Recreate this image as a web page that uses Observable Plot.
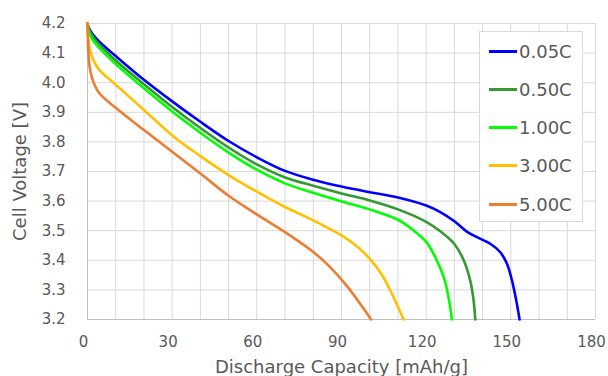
<!DOCTYPE html>
<html>
<head>
<meta charset="utf-8">
<script src="https://cdn.jsdelivr.net/npm/d3@7"></script>
<script src="https://cdn.jsdelivr.net/npm/@observablehq/plot@0.6"></script>
<style>
  html, body { margin: 0; padding: 0; background: #fff; }
  #wrap { position: relative; width: 608px; height: 376px; font-family: "DejaVu Sans", Verdana, sans-serif; }
  #wrap svg [aria-label="x-axis label"] text, #wrap svg [aria-label="y-axis label"] text { font-size: 18px; }
  #legend { position: absolute; left: 479px; top: 31px; width: 104px; height: 191px; box-sizing: border-box;
            border: 1px solid #d9d9d9; background: #fff; }
  .entry { position: absolute; left: 9px; height: 24px; display: flex; align-items: center; transform: translateY(-50%);
           font-size: 18px; color: #595959; white-space: nowrap; }
  .swatch { display: inline-block; width: 28px; height: 3px; margin-right: 2px; }
</style>
</head>
<body>
<div id="wrap"></div>
<script>
// ---- data ----
const rates = ["0.05C", "0.50C", "1.00C", "3.00C", "5.00C"];
const colors = ["#0000ff", "#339933", "#00ff00", "#ffc000", "#ed7d31"];

const cap005 = [0, 0.5, 1.7, 4, 10, 20, 30, 40, 50, 60, 70, 80, 90, 100, 110, 120, 125, 130, 134.4, 138, 142.7, 146.2, 148.6, 150.4, 151.9, 153.1];
const volt005 = [4.2, 4.185, 4.165, 4.14, 4.09, 4.01, 3.937, 3.868, 3.803, 3.748, 3.702, 3.672, 3.649, 3.630, 3.612, 3.585, 3.563, 3.532, 3.497, 3.478, 3.456, 3.428, 3.389, 3.332, 3.265, 3.2];

const cap050 = [0, 0.5, 1.7, 4, 10, 20, 30, 40, 50, 60, 70, 80, 90, 100, 110, 120, 125, 130, 133.3, 135.6, 136.8, 137.4];
const volt050 = [4.2, 4.181, 4.159, 4.131, 4.075, 3.995, 3.918, 3.847, 3.781, 3.724, 3.680, 3.652, 3.626, 3.602, 3.572, 3.530, 3.498, 3.455, 3.40, 3.332, 3.265, 3.2];

const cap100 = [0, 0.5, 1.7, 4, 10, 20, 30, 40, 50, 60, 70, 80, 90, 100, 110, 115.5, 120, 123.2, 126.2, 127.9, 129.1];
const volt100 = [4.2, 4.17, 4.147, 4.119, 4.063, 3.981, 3.903, 3.831, 3.764, 3.706, 3.660, 3.628, 3.599, 3.572, 3.537, 3.501, 3.462, 3.411, 3.344, 3.276, 3.2];

const cap300 = [0, 0.2, 0.7, 1.7, 4, 10, 20, 30, 40, 50, 60, 70, 80, 90, 95.5, 100.2, 104.5, 108.4, 112];
const volt300 = [4.2, 4.16, 4.12, 4.085, 4.045, 3.993, 3.908, 3.822, 3.752, 3.688, 3.632, 3.580, 3.535, 3.484, 3.447, 3.403, 3.348, 3.276, 3.2];

const cap500 = [0, 0.25, 0.7, 1.7, 4, 10, 20, 30, 40, 50, 60, 70, 80, 84.8, 90, 93, 96.6, 100.5];
const volt500 = [4.2, 4.114, 4.057, 4.013, 3.967, 3.915, 3.840, 3.767, 3.693, 3.618, 3.555, 3.495, 3.428, 3.388, 3.335, 3.300, 3.253, 3.2];

const xTicks = [0, 30, 60, 90, 120, 150, 180];
const xGrid = [0, 10, 20, 30, 40, 50, 60, 70, 80, 90, 100, 110, 120, 130, 140, 150, 160, 170, 180];
const yTicks = [3.2, 3.3, 3.4, 3.5, 3.6, 3.7, 3.8, 3.9, 4.0, 4.1, 4.2];
const xTitle = "Discharge Capacity [mAh/g]";
const yTitle = "Cell Voltage [V]";

// ---- build table ----
const caps = [cap005, cap050, cap100, cap300, cap500];
const volts = [volt005, volt050, volt100, volt300, volt500];
const rows = [];
rates.forEach((r, i) => caps[i].forEach((c, j) => rows.push({rate: r, cap: c, volt: volts[i][j]})));

const chart = Plot.plot({
  width: 608,
  height: 376,
  marginLeft: 87,
  marginRight: 13,
  marginTop: 23,
  marginBottom: 57,
  style: {fontFamily: "'DejaVu Sans', Verdana, sans-serif", fontSize: "15px", color: "#595959", background: "white"},
  x: {domain: [0, 180], label: xTitle},
  y: {domain: [3.2, 4.2], label: yTitle},
  color: {domain: rates, range: colors},
  marks: [
    Plot.ruleX(xGrid, {stroke: "#d9d9d9", strokeWidth: 1}),
    Plot.ruleY(yTicks, {stroke: "#d9d9d9", strokeWidth: 1}),
    Plot.ruleX([0], {stroke: "#bfbfbf", strokeWidth: 1}),
    Plot.ruleY([3.2], {stroke: "#bfbfbf", strokeWidth: 1}),
    Plot.axisX(xTicks, {tickSize: 0, tickPadding: 17, dx: -4, label: xTitle, labelAnchor: "center",
                        labelOffset: 53, labelArrow: "none"}),
    Plot.axisY(yTicks, {tickSize: 0, tickPadding: 22, tickFormat: d => d.toFixed(1), label: yTitle,
                        labelAnchor: "center", labelOffset: 74, labelArrow: "none"}),
    Plot.line(rows, {x: "cap", y: "volt", z: "rate", stroke: "rate", strokeWidth: 2.6, curve: "catmull-rom"})
  ]
});

const wrap = document.getElementById("wrap");
wrap.appendChild(chart);

const legend = document.createElement("div");
legend.id = "legend";
rates.forEach((r, i) => {
  const e = document.createElement("div");
  e.className = "entry";
  e.style.top = (19 + i * 38.3) + "px";
  const s = document.createElement("span");
  s.className = "swatch";
  s.style.background = colors[i];
  const t = document.createElement("span");
  t.textContent = r;
  e.appendChild(s);
  e.appendChild(t);
  legend.appendChild(e);
});
wrap.appendChild(legend);
</script>
</body>
</html>
